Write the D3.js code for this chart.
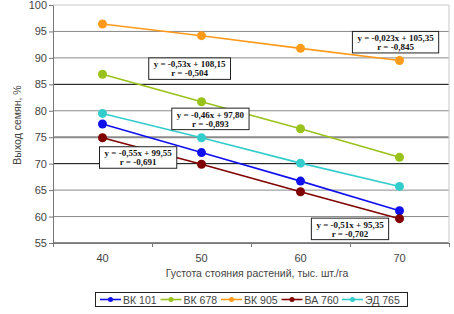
<!DOCTYPE html>
<html>
<head>
<meta charset="utf-8">
<script src="https://cdn.jsdelivr.net/npm/d3@7"></script>
<style>
  body { margin: 0; background: #fff; }
  svg { display: block; }
</style>
</head>
<body>
<svg id="chart"></svg>
<script>
// density, thousand plants per ha
const densities = [40, 50, 60, 70]
const seriesNames = ["ВК 101", "ВК 678", "ВК 905", "ВА 760", "ЭД 765"]
const bk101 = [77.5, 72.1, 66.7, 61.1]
const bk678 = [86.9, 81.7, 76.6, 71.2]
const bk905 = [96.4, 94.2, 91.8, 89.5]
const ba760 = [74.9, 69.9, 64.7, 59.6]
const ed765 = [79.5, 74.9, 70.1, 65.7]
const seriesColors = ["#1010ee", "#99c21a", "#ff9a1a", "#800000", "#33cccc"]
const yTicks = [55, 60, 65, 70, 75, 80, 85, 90, 95, 100]

// trend equations: [line1, line2, x position (density), y top (value)]
const eqLine1 = ["y = -0,023x + 105,35", "y = -0,53x + 108,15", "y = -0,46x + 97,80", "y = -0,55x + 99,55", "y = -0,51x + 95,35"]
const eqLine2 = ["r = -0,845", "r = -0,504", "r = -0,893", "r = -0,691", "r = -0,702"]
const eqX = [69.6, 48.8, 50.9, 43.6, 65.0]
const eqY = [95.0, 90.0, 80.5, 73.2, 59.7]

const width = 454, height = 314
const margins = {left: 53, right: 5, top: 5, bottom: 71}

const svg = d3.select("#chart").attr("width", width).attr("height", height)

const scaleX = d3.scaleLinear().domain([35, 75]).range([margins.left, width - margins.right])
const scaleY = d3.scaleLinear().domain([55, 100]).range([height - margins.bottom, margins.top])

// grid lines (scanned look: some lines darker)
let grid = svg.append("g")
grid.selectAll("line")
    .data(yTicks)
    .join("line")
    .attr("x1", scaleX(35))
    .attr("x2", scaleX(75))
    .attr("y1", d => scaleY(d))
    .attr("y2", d => scaleY(d))
    .attr("stroke", d => (d === 85 || d === 70) ? "#000" : (d === 100 ? "#c8c8c8" : "#8a8a8a"))
    .attr("stroke-width", d => (d === 75 || d === 55) ? 2 : 1)

// right border of the plot area
svg.append("line")
    .attr("x1", scaleX(75)).attr("x2", scaleX(75))
    .attr("y1", scaleY(100)).attr("y2", scaleY(55))
    .attr("stroke", "#c8c8c8")

// y axis
let yAxis = d3.axisLeft(scaleY).tickValues(yTicks).tickSize(4).tickSizeOuter(0)
let yG = svg.append("g").attr("transform", `translate(${margins.left},0)`).call(yAxis)
yG.select(".domain").attr("stroke", "#777")
yG.selectAll(".tick line").attr("stroke", "#777")
yG.selectAll(".tick text")
    .attr("font-family", "Liberation Sans, Arial, sans-serif")
    .attr("font-size", 11)
    .attr("fill", "#444")
    .attr("x", -6)

// x axis: ticks between categories, labels at categories
let xAxis = d3.axisBottom(scaleX).tickValues([35, 45, 55, 65, 75]).tickSize(4).tickFormat("")
let xG = svg.append("g").attr("transform", `translate(0,${scaleY(55)})`).call(xAxis)
xG.select(".domain").attr("stroke", "#777")
xG.selectAll(".tick line").attr("stroke", "#777")

svg.append("g").selectAll("text")
    .data(densities)
    .join("text")
    .text(d => d)
    .attr("x", d => scaleX(d))
    .attr("y", scaleY(55) + 19)
    .attr("text-anchor", "middle")
    .attr("font-family", "Liberation Sans, Arial, sans-serif")
    .attr("font-size", 11)
    .attr("fill", "#444")

// axis titles
svg.append("text")
    .text("Густота стояния растений, тыс. шт./га")
    .attr("x", 257)
    .attr("y", 277)
    .attr("text-anchor", "middle")
    .attr("font-family", "Liberation Sans, Arial, sans-serif")
    .attr("font-size", 10.5)
    .attr("fill", "#444")

svg.append("text")
    .text("Выход семян, %")
    .attr("transform", "translate(21,125) rotate(-90)")
    .attr("text-anchor", "middle")
    .attr("font-family", "Liberation Sans, Arial, sans-serif")
    .attr("font-size", 10.5)
    .attr("fill", "#444")

// series
const allSeries = [bk101, bk678, bk905, ba760, ed765]
let lineGenerator = d3.line()
    .x((d, i) => scaleX(densities[i]))
    .y(d => scaleY(d))

let seriesG = svg.append("g").selectAll("g")
    .data(allSeries)
    .join("g")

seriesG.append("path")
    .attr("d", d => lineGenerator(d))
    .attr("fill", "none")
    .attr("stroke", (d, i) => seriesColors[i])
    .attr("stroke-width", 1.6)

seriesG.each(function(d, si) {
    d3.select(this).selectAll("circle")
        .data(d)
        .join("circle")
        .attr("cx", (v, i) => scaleX(densities[i]))
        .attr("cy", v => scaleY(v))
        .attr("r", 4.5)
        .attr("fill", seriesColors[si])
})

// equation boxes
let eqG = svg.append("g").selectAll("g")
    .data(eqLine1)
    .join("g")
    .attr("transform", (d, i) => `translate(${scaleX(eqX[i])},${scaleY(eqY[i])})`)

eqG.append("rect")
    .attr("fill", "#fff")
    .attr("stroke", "#222")
    .attr("stroke-width", 1)

eqG.append("text")
    .text(d => d)
    .attr("y", 9.5)
    .attr("text-anchor", "middle")
    .attr("font-family", "Liberation Serif, Times New Roman, serif")
    .attr("font-weight", "bold")
    .attr("font-size", 9)
    .attr("fill", "#111")

eqG.append("text")
    .text((d, i) => eqLine2[i])
    .attr("y", 18.5)
    .attr("text-anchor", "middle")
    .attr("font-family", "Liberation Serif, Times New Roman, serif")
    .attr("font-weight", "bold")
    .attr("font-size", 9)
    .attr("fill", "#111")

eqG.each(function() {
    let g = d3.select(this)
    let w = g.select("text").node().getComputedTextLength() + 10
    g.select("rect").attr("x", -w / 2).attr("y", 0).attr("width", w).attr("height", 21.5)
})

// legend
let legend = svg.append("g")
legend.append("rect")
    .attr("x", 95.5).attr("y", 292.5)
    .attr("width", 312).attr("height", 14)
    .attr("fill", "#fff")
    .attr("stroke", "#222")

let legendItems = legend.selectAll("g")
    .data(seriesNames)
    .join("g")
    .attr("transform", (d, i) => `translate(${100 + i * 60.5},299.5)`)

legendItems.append("line")
    .attr("x1", 0).attr("x2", 21)
    .attr("stroke", (d, i) => seriesColors[i])
    .attr("stroke-width", 1.6)
legendItems.append("circle")
    .attr("cx", 10.5).attr("r", 2.5)
    .attr("fill", (d, i) => seriesColors[i])
legendItems.append("text")
    .text(d => d)
    .attr("x", 23)
    .attr("y", 4)
    .attr("font-family", "Liberation Sans, Arial, sans-serif")
    .attr("font-size", 10.5)
    .attr("fill", "#444")
</script>
</body>
</html>
